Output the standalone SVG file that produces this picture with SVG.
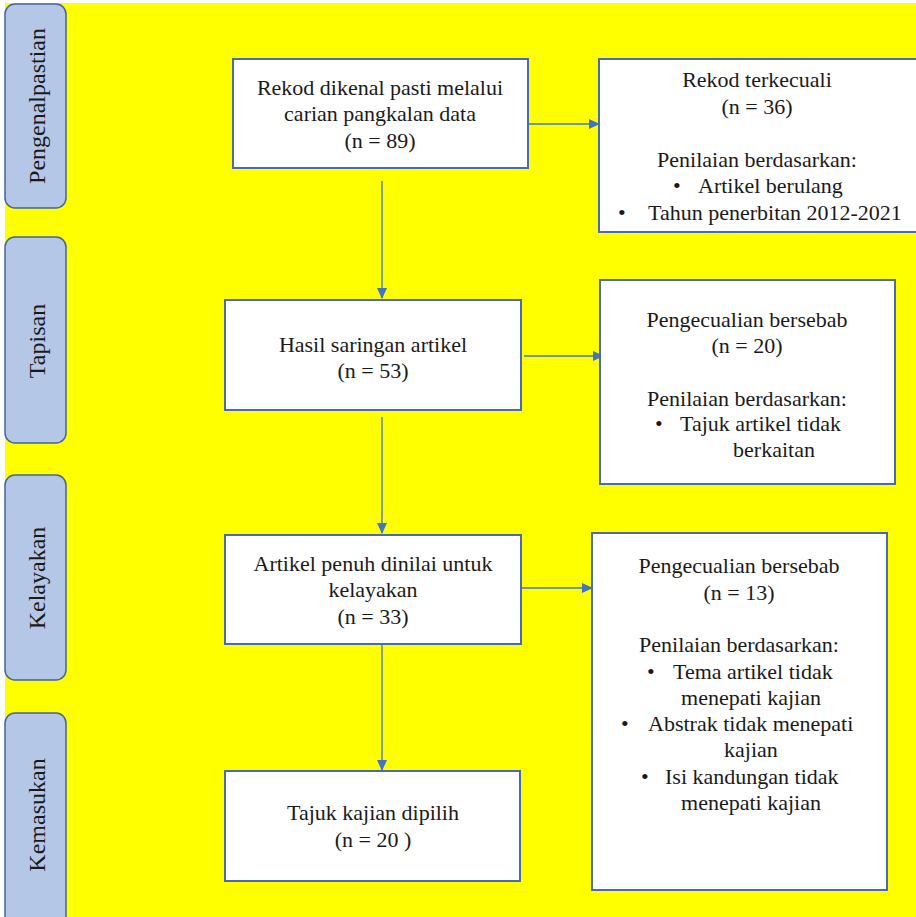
<svg xmlns="http://www.w3.org/2000/svg" width="916" height="917" viewBox="0 0 916 917">
<defs>
<marker id="ah" markerWidth="11" markerHeight="11" refX="10" refY="5.5" orient="auto" markerUnits="userSpaceOnUse">
<path d="M0,0.5 L11,5.5 L0,10.5 Z" fill="#4472C4"/>
</marker>
<style>
.bg{fill:#FFFF00}
.side{fill:#B4C7E7;stroke:#41669C;stroke-width:1.5}
.box{fill:#FFFFFF;stroke:#4A6BAF;stroke-width:2}
.t{font-family:"Liberation Serif","Times New Roman",serif;font-size:22px;fill:#1a1a1a;text-anchor:middle}
.tl{font-family:"Liberation Serif","Times New Roman",serif;font-size:22px;fill:#1a1a1a}
.s{font-family:"Liberation Serif","Times New Roman",serif;font-size:24px;fill:#1a1a1a;text-anchor:middle}
.c{fill:none;stroke:#4472C4;stroke-width:1.3;marker-end:url(#ah)}
</style>
</defs>
<rect x="0" y="0" width="916" height="917" fill="#FFFFFF"/>
<rect class="bg" x="5" y="3" width="911" height="914"/>

<g id="side-pengenalpastian">
<rect class="side" x="5" y="4" width="61" height="204" rx="10"/>
<text class="s" transform="translate(45,106) rotate(-90)">Pengenalpastian</text>
</g>
<g id="side-tapisan">
<rect class="side" x="5" y="237" width="61" height="206" rx="10"/>
<text class="s" transform="translate(45,341) rotate(-90)">Tapisan</text>
</g>
<g id="side-kelayakan">
<rect class="side" x="5" y="475" width="61" height="205" rx="10"/>
<text class="s" transform="translate(45,578) rotate(-90)">Kelayakan</text>
</g>
<g id="side-kemasukan">
<rect class="side" x="5" y="713" width="61" height="214" rx="10"/>
<text class="s" transform="translate(45,815) rotate(-90)">Kemasukan</text>
</g>

<g id="connectors">
<line class="c" x1="528" y1="124" x2="599" y2="124"/>
<line class="c" x1="382" y1="181" x2="382" y2="298"/>
<line class="c" x1="524" y1="356" x2="603" y2="356"/>
<line class="c" x1="382" y1="417" x2="382" y2="533"/>
<line class="c" x1="521" y1="588" x2="592" y2="588"/>
<line class="c" x1="382" y1="644" x2="382" y2="770"/>
</g>

<g id="box-rekod">
<rect class="box" x="233" y="59" width="295" height="109"/>
<text class="t" x="380" y="95">Rekod dikenal pasti melalui</text>
<text class="t" x="380" y="121">carian pangkalan data</text>
<text class="t" x="380" y="148">(n = 89)</text>
</g>
<g id="box-terkecuali">
<rect class="box" x="599" y="59" width="325" height="173"/>
<text class="t" x="757" y="87">Rekod terkecuali</text>
<text class="t" x="757" y="114">(n = 36)</text>
<text class="t" x="757" y="167">Penilaian berdasarkan:</text>
<text class="tl" x="673" y="193">•</text>
<text class="tl" x="698" y="193">Artikel berulang</text>
<text class="tl" x="618" y="220">•</text>
<text class="tl" x="648" y="220">Tahun penerbitan 2012-2021</text>
</g>

<g id="box-hasil">
<rect class="box" x="225" y="300" width="296" height="110"/>
<text class="t" x="373" y="352">Hasil saringan artikel</text>
<text class="t" x="373" y="378">(n = 53)</text>
</g>
<g id="box-pengecualian1">
<rect class="box" x="600" y="280" width="295" height="204"/>
<text class="t" x="747" y="327">Pengecualian bersebab</text>
<text class="t" x="747" y="353">(n = 20)</text>
<text class="t" x="747" y="406">Penilaian berdasarkan:</text>
<text class="tl" x="655" y="431">•</text>
<text class="tl" x="680" y="431">Tajuk artikel tidak</text>
<text class="t" x="774" y="457">berkaitan</text>
</g>

<g id="box-artikel">
<rect class="box" x="225" y="535" width="296" height="109"/>
<text class="t" x="373" y="571">Artikel penuh dinilai untuk</text>
<text class="t" x="373" y="597">kelayakan</text>
<text class="t" x="373" y="624">(n = 33)</text>
</g>
<g id="box-pengecualian2">
<rect class="box" x="592" y="533" width="295" height="357"/>
<text class="t" x="739" y="573">Pengecualian bersebab</text>
<text class="t" x="739" y="600">(n = 13)</text>
<text class="t" x="739" y="652">Penilaian berdasarkan:</text>
<text class="tl" x="647" y="679">•</text>
<text class="tl" x="673" y="679">Tema artikel tidak</text>
<text class="t" x="751" y="705">menepati kajian</text>
<text class="tl" x="621" y="731">•</text>
<text class="tl" x="648" y="731">Abstrak tidak menepati</text>
<text class="t" x="751" y="757">kajian</text>
<text class="tl" x="641" y="784">•</text>
<text class="tl" x="665" y="784">Isi kandungan tidak</text>
<text class="t" x="751" y="810">menepati kajian</text>
</g>

<g id="box-tajuk">
<rect class="box" x="225" y="771" width="295" height="110"/>
<text class="t" x="373" y="820">Tajuk kajian dipilih</text>
<text class="t" x="373" y="847">(n = 20 )</text>
</g>
</svg>
